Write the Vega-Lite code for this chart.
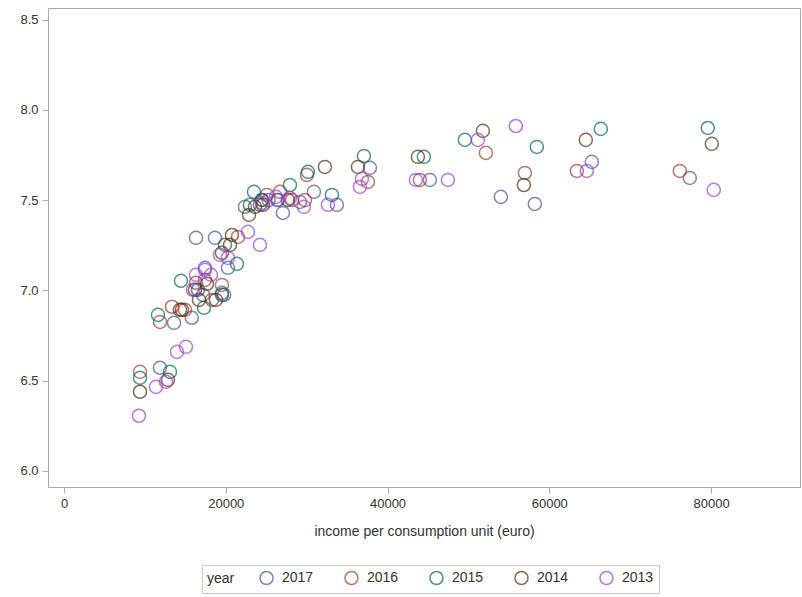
{
  "$schema": "https://vega.github.io/schema/vega-lite/v6.json",
  "width": 752,
  "height": 479,
  "autosize": "none",
  "padding": {"left": 48, "right": 2, "top": 8, "bottom": 110},
  "datasets": {
    "pts": [
      {"year": "2017", "income": 11866, "score": 6.571},
      {"year": "2017", "income": 13596, "score": 6.820},
      {"year": "2017", "income": 16321, "score": 7.291},
      {"year": "2017", "income": 17428, "score": 7.125},
      {"year": "2017", "income": 19529, "score": 6.986},
      {"year": "2017", "income": 18664, "score": 7.291},
      {"year": "2017", "income": 15800, "score": 6.848},
      {"year": "2017", "income": 27068, "score": 7.429},
      {"year": "2017", "income": 29170, "score": 7.490},
      {"year": "2017", "income": 30900, "score": 7.546},
      {"year": "2017", "income": 33743, "score": 7.474},
      {"year": "2017", "income": 37822, "score": 7.679},
      {"year": "2017", "income": 45238, "score": 7.612},
      {"year": "2017", "income": 54013, "score": 7.518},
      {"year": "2017", "income": 58216, "score": 7.479},
      {"year": "2017", "income": 65261, "score": 7.712},
      {"year": "2017", "income": 77374, "score": 7.623},
      {"year": "2017", "income": 19800, "score": 6.975},
      {"year": "2017", "income": 24226, "score": 7.474},
      {"year": "2017", "income": 25300, "score": 7.500},
      {"year": "2017", "income": 22372, "score": 7.463},
      {"year": "2017", "income": 20270, "score": 7.125},
      {"year": "2017", "income": 17180, "score": 6.975},
      {"year": "2016", "income": 9394, "score": 6.548},
      {"year": "2016", "income": 11866, "score": 6.825},
      {"year": "2016", "income": 13349, "score": 6.909},
      {"year": "2016", "income": 18293, "score": 6.947},
      {"year": "2016", "income": 19529, "score": 7.030},
      {"year": "2016", "income": 21506, "score": 7.296},
      {"year": "2016", "income": 26698, "score": 7.546},
      {"year": "2016", "income": 30035, "score": 7.640},
      {"year": "2016", "income": 29788, "score": 7.500},
      {"year": "2016", "income": 37574, "score": 7.601},
      {"year": "2016", "income": 44002, "score": 7.612},
      {"year": "2016", "income": 52159, "score": 7.762},
      {"year": "2016", "income": 56980, "score": 7.651},
      {"year": "2016", "income": 63407, "score": 7.662},
      {"year": "2016", "income": 76138, "score": 7.662},
      {"year": "2016", "income": 16315, "score": 7.042},
      {"year": "2016", "income": 14956, "score": 6.892},
      {"year": "2016", "income": 24473, "score": 7.501},
      {"year": "2016", "income": 28181, "score": 7.501},
      {"year": "2016", "income": 17428, "score": 7.058},
      {"year": "2016", "income": 25091, "score": 7.529},
      {"year": "2015", "income": 9394, "score": 6.515},
      {"year": "2015", "income": 11618, "score": 6.864},
      {"year": "2015", "income": 14461, "score": 7.053},
      {"year": "2015", "income": 23484, "score": 7.546},
      {"year": "2015", "income": 24473, "score": 7.501},
      {"year": "2015", "income": 27934, "score": 7.584},
      {"year": "2015", "income": 30158, "score": 7.657},
      {"year": "2015", "income": 33125, "score": 7.529},
      {"year": "2015", "income": 37080, "score": 7.745},
      {"year": "2015", "income": 44496, "score": 7.740},
      {"year": "2015", "income": 49564, "score": 7.834},
      {"year": "2015", "income": 58463, "score": 7.795},
      {"year": "2015", "income": 66373, "score": 7.895},
      {"year": "2015", "income": 79598, "score": 7.900},
      {"year": "2015", "income": 13102, "score": 6.548},
      {"year": "2015", "income": 21383, "score": 7.147},
      {"year": "2015", "income": 17304, "score": 6.903},
      {"year": "2015", "income": 19900, "score": 7.252},
      {"year": "2015", "income": 16562, "score": 7.003},
      {"year": "2015", "income": 22990, "score": 7.474},
      {"year": "2015", "income": 26450, "score": 7.501},
      {"year": "2015", "income": 19529, "score": 6.975},
      {"year": "2014", "income": 9394, "score": 6.438},
      {"year": "2014", "income": 12854, "score": 6.504},
      {"year": "2014", "income": 14338, "score": 6.892},
      {"year": "2014", "income": 16686, "score": 6.947},
      {"year": "2014", "income": 18787, "score": 6.947},
      {"year": "2014", "income": 20518, "score": 7.252},
      {"year": "2014", "income": 22866, "score": 7.418},
      {"year": "2014", "income": 24596, "score": 7.474},
      {"year": "2014", "income": 27686, "score": 7.501},
      {"year": "2014", "income": 32260, "score": 7.684},
      {"year": "2014", "income": 36338, "score": 7.684},
      {"year": "2014", "income": 43754, "score": 7.740},
      {"year": "2014", "income": 51788, "score": 7.884},
      {"year": "2014", "income": 56856, "score": 7.584},
      {"year": "2014", "income": 64519, "score": 7.834},
      {"year": "2014", "income": 80093, "score": 7.812},
      {"year": "2014", "income": 16192, "score": 7.003},
      {"year": "2014", "income": 19529, "score": 7.208},
      {"year": "2014", "income": 17675, "score": 7.036},
      {"year": "2014", "income": 20765, "score": 7.307},
      {"year": "2014", "income": 23608, "score": 7.463},
      {"year": "2014", "income": 14585, "score": 6.892},
      {"year": "2013", "income": 9270, "score": 6.305},
      {"year": "2013", "income": 11371, "score": 6.465},
      {"year": "2013", "income": 12607, "score": 6.493},
      {"year": "2013", "income": 13967, "score": 6.659},
      {"year": "2013", "income": 15079, "score": 6.687},
      {"year": "2013", "income": 15944, "score": 7.003},
      {"year": "2013", "income": 17428, "score": 7.114},
      {"year": "2013", "income": 18169, "score": 7.086},
      {"year": "2013", "income": 20270, "score": 7.180},
      {"year": "2013", "income": 22742, "score": 7.324},
      {"year": "2013", "income": 24473, "score": 7.485},
      {"year": "2013", "income": 26203, "score": 7.518},
      {"year": "2013", "income": 29664, "score": 7.463},
      {"year": "2013", "income": 32630, "score": 7.474},
      {"year": "2013", "income": 36586, "score": 7.573},
      {"year": "2013", "income": 36833, "score": 7.618},
      {"year": "2013", "income": 43507, "score": 7.612},
      {"year": "2013", "income": 47462, "score": 7.612},
      {"year": "2013", "income": 51170, "score": 7.834},
      {"year": "2013", "income": 55867, "score": 7.911},
      {"year": "2013", "income": 64643, "score": 7.662},
      {"year": "2013", "income": 80340, "score": 7.557},
      {"year": "2013", "income": 16315, "score": 7.086},
      {"year": "2013", "income": 19282, "score": 7.197},
      {"year": "2013", "income": 26327, "score": 7.501},
      {"year": "2013", "income": 27934, "score": 7.512},
      {"year": "2013", "income": 24226, "score": 7.252}
    ]
  },
  "data": {"name": "pts"},
  "mark": {"type": "point", "shape": "circle", "filled": false, "size": 170, "strokeWidth": 1.5},
  "encoding": {
    "x": {
      "field": "income", "type": "quantitative",
      "title": "income per consumption unit (euro)",
      "scale": {"domain": [-1980, 91000], "nice": false, "zero": false},
      "axis": {"values": [0, 20000, 40000, 60000, 80000], "format": "d", "grid": false, "titlePadding": 14}
    },
    "y": {
      "field": "score", "type": "quantitative", "title": null,
      "scale": {"domain": [5.91, 8.565], "nice": false, "zero": false},
      "axis": {"values": [6.0, 6.5, 7.0, 7.5, 8.0, 8.5], "format": ".1f", "grid": false}
    },
    "color": {
      "field": "year", "type": "nominal", "title": "year",
      "scale": {
        "domain": ["2017", "2016", "2015", "2014", "2013"],
        "range": ["#445694", "#A23A2E", "#01665E", "#543005", "#9D3CDB"]
      },
      "legend": {
        "orient": "none", "legendX": 154, "legendY": 557,
        "direction": "horizontal", "titleOrient": "left",
        "strokeColor": "#c8c8c8", "padding": 5, "titlePadding": 24,
        "symbolType": "circle", "symbolSize": 170, "symbolStrokeWidth": 1.5, "symbolFillColor": "transparent"
      }
    }
  },
  "config": {
    "font": "Liberation Sans",
    "view": {"stroke": "#aaaaaa"},
    "axis": {
      "labelFontSize": 13, "titleFontSize": 14, "labelColor": "#333333", "titleColor": "#333333",
      "titleFontWeight": "normal", "domainColor": "#aaaaaa", "tickColor": "#aaaaaa", "tickSize": 6, "labelPadding": 4
    },
    "legend": {"labelFontSize": 14, "titleFontSize": 14, "titleFontWeight": "normal", "labelColor": "#333333", "titleColor": "#333333", "columnPadding": 27, "labelOffset": 8}
  }
}
